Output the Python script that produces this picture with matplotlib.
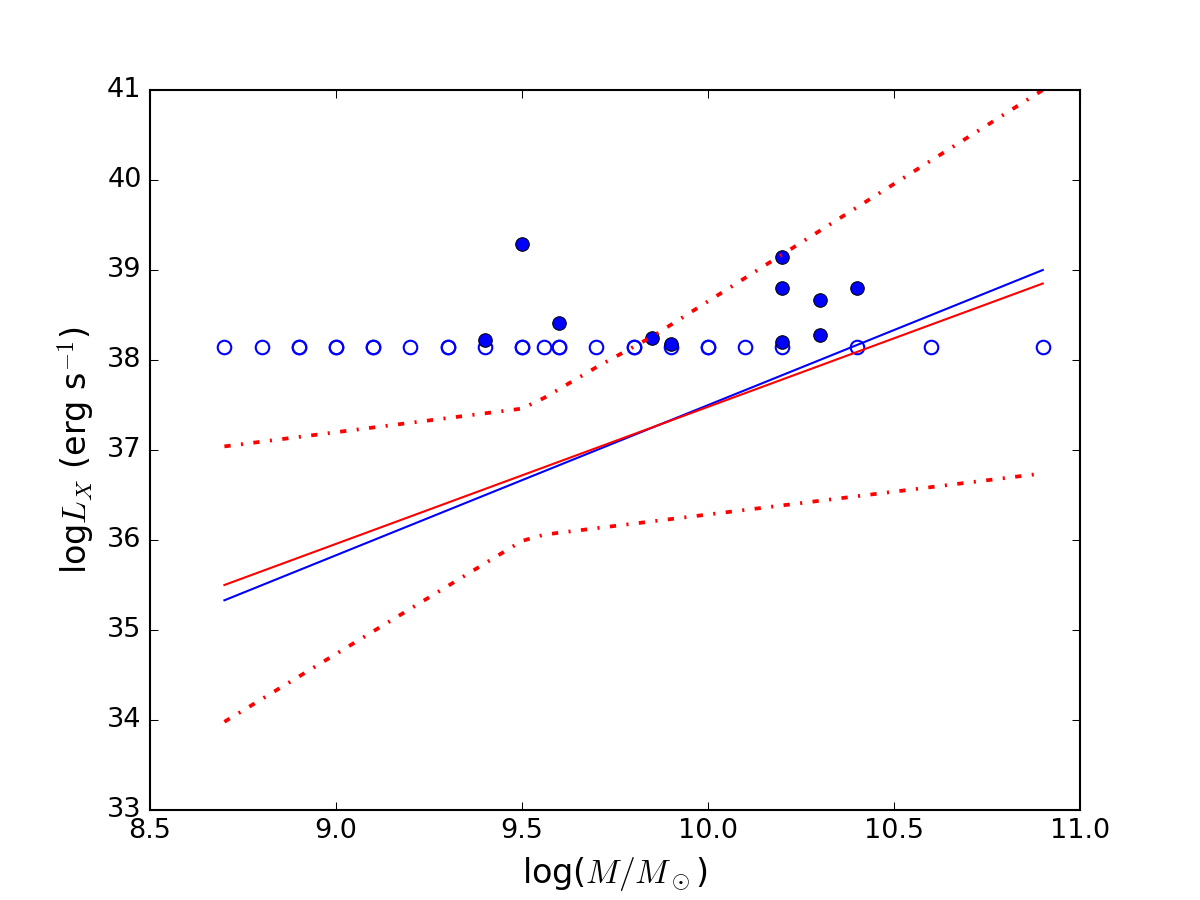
import matplotlib
matplotlib.use("Agg")
import matplotlib.pyplot as plt

plt.style.use("classic")
plt.rcParams["lines.scale_dashes"] = False

# open circles (upper limits)
open_x = [8.7, 8.8, 8.9, 8.9, 9.0, 9.0, 9.1, 9.1, 9.2, 9.3, 9.3, 9.4, 9.5, 9.5,
          9.56, 9.6, 9.6, 9.7, 9.8, 9.8, 9.9, 10.0, 10.0, 10.1, 10.2, 10.4, 10.6, 10.9]
open_y = [38.15] * len(open_x)

# detections
det_x = [9.4, 9.5, 9.6, 9.85, 9.9, 10.2, 10.2, 10.2, 10.3, 10.3, 10.4]
det_y = [38.22, 39.29, 38.41, 38.25, 38.18, 39.14, 38.80, 38.20, 38.67, 38.28, 38.80]

# fits
fit_x = [8.7, 10.9]
blue_fit_y = [35.33, 39.00]
red_fit_y = [35.50, 38.85]

upper_x = [8.7, 9.5, 9.56, 9.7, 9.85, 10.9]
upper_y = [37.04, 37.46, 37.58, 37.92, 38.26, 41.0]
lower_x = [8.7, 9.5, 9.56, 10.9]
lower_y = [33.98, 35.99, 36.06, 36.74]

fig = plt.figure(figsize=(8, 6), facecolor="white")
ax = fig.add_subplot(111)

ax.plot(open_x, open_y, "o", mfc="none", mec="b", mew=1.0, ms=6.5)
ax.plot(det_x, det_y, "o", mfc="b", mec="k", mew=0.5, ms=6.5)
ax.plot(fit_x, blue_fit_y, "b-", lw=1.0)
ax.plot(fit_x, red_fit_y, "r-", lw=1.0)
ax.plot(upper_x, upper_y, color="r", lw=1.8, linestyle=(0, (3, 5, 1, 5)))
ax.plot(lower_x, lower_y, color="r", lw=1.8, linestyle=(0, (3, 5, 1, 5)))

ax.set_xlim(8.5, 11.0)
ax.set_ylim(33, 41)
ax.set_xticks([8.5, 9.0, 9.5, 10.0, 10.5, 11.0])
ax.set_yticks([33, 34, 35, 36, 37, 38, 39, 40, 41])
ax.tick_params(labelsize=13)
ax.set_xlabel(r"log($M/M_\odot$)", fontsize=16)
ax.set_ylabel(r"log$L_X$ (erg s$^{-1}$)", fontsize=16)

fig.savefig("out.png", dpi=150, facecolor="white")
